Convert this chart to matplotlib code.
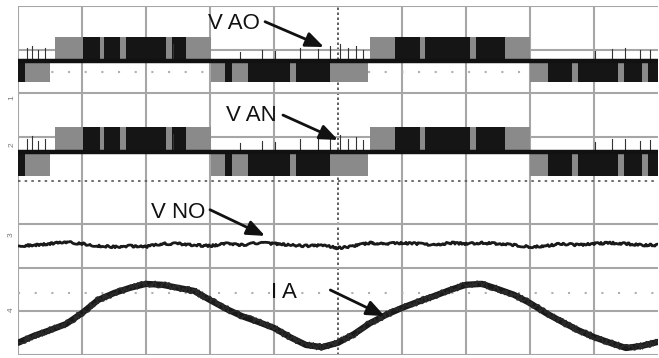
import matplotlib
matplotlib.use("Agg")
import matplotlib.pyplot as plt
from matplotlib.patches import Rectangle

plt.rcParams["font.family"] = ["Liberation Sans", "DejaVu Sans"]
plt.rcParams["hatch.color"] = "#5c5c5c"
plt.rcParams["hatch.linewidth"] = 0.8

# ---------------------------------------------------------
# Scope data (all in screen divisions: 10 across, 8 high)
# ---------------------------------------------------------

# PWM levels for the two switched voltages: (top, baseline, bottom)
vao_levels = (7.29, 6.74, 6.26)
van_levels = (5.23, 4.66, 4.11)

# PWM stripes: start, end, side (+1 = above baseline, -1 = below), dark?
pwm_start = [0.00, 0.11,
             0.58, 1.02, 1.28, 1.34, 1.59, 1.69, 2.31, 2.41, 2.63,
             3.02, 3.23, 3.34, 3.59, 4.25, 4.34, 4.88,
             5.50, 5.89, 6.28, 6.36, 7.06, 7.16, 7.61,
             8.00, 8.28, 8.66, 8.75, 9.38, 9.47, 9.75, 9.84]
pwm_end = [0.11, 0.50,
           1.02, 1.28, 1.34, 1.59, 1.69, 2.31, 2.41, 2.63, 3.02,
           3.23, 3.34, 3.59, 4.25, 4.34, 4.88, 5.47,
           5.89, 6.28, 6.36, 7.06, 7.16, 7.61, 8.00,
           8.28, 8.66, 8.75, 9.38, 9.47, 9.75, 9.84, 10.0]
pwm_side = [-1, -1,
            1, 1, 1, 1, 1, 1, 1, 1, 1,
            -1, -1, -1, -1, -1, -1, -1,
            1, 1, 1, 1, 1, 1, 1,
            -1, -1, -1, -1, -1, -1, -1, -1]
pwm_dark = [1, 0,
            0, 1, 0, 1, 0, 1, 0, 1, 0,
            0, 1, 0, 1, 0, 1, 0,
            0, 1, 0, 1, 0, 1, 0,
            0, 1, 0, 1, 0, 1, 0, 1]

# switching spikes poking out of the baseline (position, height in div)
spike_x = [0.14, 0.22, 0.31, 0.42, 2.42, 3.47, 3.81, 4.02, 4.41, 4.69,
           4.88, 5.03, 5.16, 5.28, 5.39, 9.01, 9.28, 9.48, 9.72, 9.88]
spike_h = [0.30, 0.35, 0.25, 0.30, 0.40, 0.20, 0.25, 0.22, 0.30, 0.28,
           0.35, 0.38, 0.30, 0.34, 0.26, 0.22, 0.28, 0.30, 0.25, 0.26]

# V NO and I A traces, sampled every 0.25 div
trace_t = [i * 0.25 for i in range(41)]
vno = [2.50, 2.52, 2.55, 2.59, 2.55, 2.50, 2.48, 2.50, 2.48, 2.55,
       2.55, 2.52, 2.50, 2.55, 2.52, 2.57, 2.55, 2.52, 2.50, 2.52,
       2.45, 2.50, 2.57, 2.55, 2.57, 2.55, 2.52, 2.57, 2.55, 2.57,
       2.55, 2.52, 2.48, 2.50, 2.55, 2.52, 2.55, 2.57, 2.55, 2.52, 2.52]
ia = [0.28, 0.44, 0.57, 0.71, 0.96, 1.26, 1.42, 1.54, 1.63, 1.61,
      1.54, 1.47, 1.26, 1.06, 0.89, 0.76, 0.62, 0.41, 0.23, 0.18,
      0.28, 0.48, 0.73, 0.92, 1.08, 1.22, 1.35, 1.49, 1.61, 1.63,
      1.51, 1.38, 1.19, 0.96, 0.76, 0.57, 0.41, 0.28, 0.16, 0.21, 0.30]

labels = ["V AO", "V AN", "V NO", "I A"]
label_xy = [(3.38, 7.59), (3.64, 5.48), (2.50, 3.26), (4.16, 1.44)]
arrow_from = [(3.86, 7.64), (4.14, 5.50), (3.00, 3.33), (4.88, 1.49)]
arrow_to = [(4.78, 7.06), (5.00, 4.93), (3.86, 2.73), (5.73, 0.89)]

ground_marks = ["1", "2", "3", "4"]
ground_y = [5.90, 4.82, 2.75, 1.04]

# ---------------------------------------------------------
# Figure
# ---------------------------------------------------------

fig = plt.figure(figsize=(6.59, 3.58), dpi=100)
ax = fig.add_axes([18 / 659, 3 / 358, 640 / 659, 349 / 358])
ax.set_xlim(0, 10)
ax.set_ylim(0, 8)
ax.axis("off")

grid_col = "#a6a6a6"
for gx in range(10):
    if gx == 5:
        ax.axvline(gx, color="#444444", lw=1.2, ls=(0, (1.5, 1.5)), zorder=1)
    else:
        ax.axvline(gx, color=grid_col, lw=1.5, zorder=1)
for gy in range(9):
    if gy == 4:
        ax.axhline(gy, color="#555555", lw=1.2, ls=(0, (1.5, 2.5)), zorder=1)
    else:
        ax.axhline(gy, color=grid_col, lw=1.5, zorder=1)

# faint reference markers
for ry in [6.49, 1.42]:
    ax.axhline(ry, color="#b0b0b0", lw=1.5, ls=(0, (1, 7)), zorder=1)

# PWM channels
for top, base, bottom in [vao_levels, van_levels]:
    for s, e, side, dark in zip(pwm_start, pwm_end, pwm_side, pwm_dark):
        y0 = base if side > 0 else bottom
        h = (top - base) if side > 0 else (base - bottom)
        col = "#151515" if dark else "#8a8a8a"
        ax.add_patch(Rectangle((s, y0), e - s, h, facecolor=col,
                               edgecolor="none", zorder=2,
                               hatch=None if dark else "|||"))
    for sx, sh in zip(spike_x, spike_h):
        ax.plot([sx, sx], [base, base + sh], color="#333333", lw=0.8, zorder=2)
    ax.plot([0, 10], [base, base], color="#111111", lw=3.2, zorder=3)

# V NO and I A
l1, = ax.plot(trace_t, vno, color="#1a1a1a", lw=2.0, zorder=3)
l1.set_sketch_params(scale=1.0, length=3, randomness=20)
ax.plot(trace_t, ia, color="#1a1a1a", lw=4.5, zorder=3,
        solid_capstyle="round")
l2, = ax.plot(trace_t, ia, color="#2a2a2a", lw=1.2, zorder=3)
l2.set_sketch_params(scale=3.0, length=3, randomness=20)

# labels with arrows
for lab, xy, a0, a1 in zip(labels, label_xy, arrow_from, arrow_to):
    ax.text(xy[0], xy[1], lab, fontsize=16, ha="center", va="center",
            color="#111111", zorder=5)
    ax.annotate("", xy=a1, xytext=a0,
                arrowprops=dict(arrowstyle="-|>,head_length=1.1,head_width=0.45",
                                color="#111111", lw=2.0, shrinkA=0, shrinkB=0),
                zorder=5)

# channel ground markers on the left
for m, gy in zip(ground_marks, ground_y):
    ax.text(-0.1, gy, m, fontsize=6, rotation=90, ha="center", va="center",
            color="#777777", clip_on=False)

fig.savefig("out.png", dpi=100)
